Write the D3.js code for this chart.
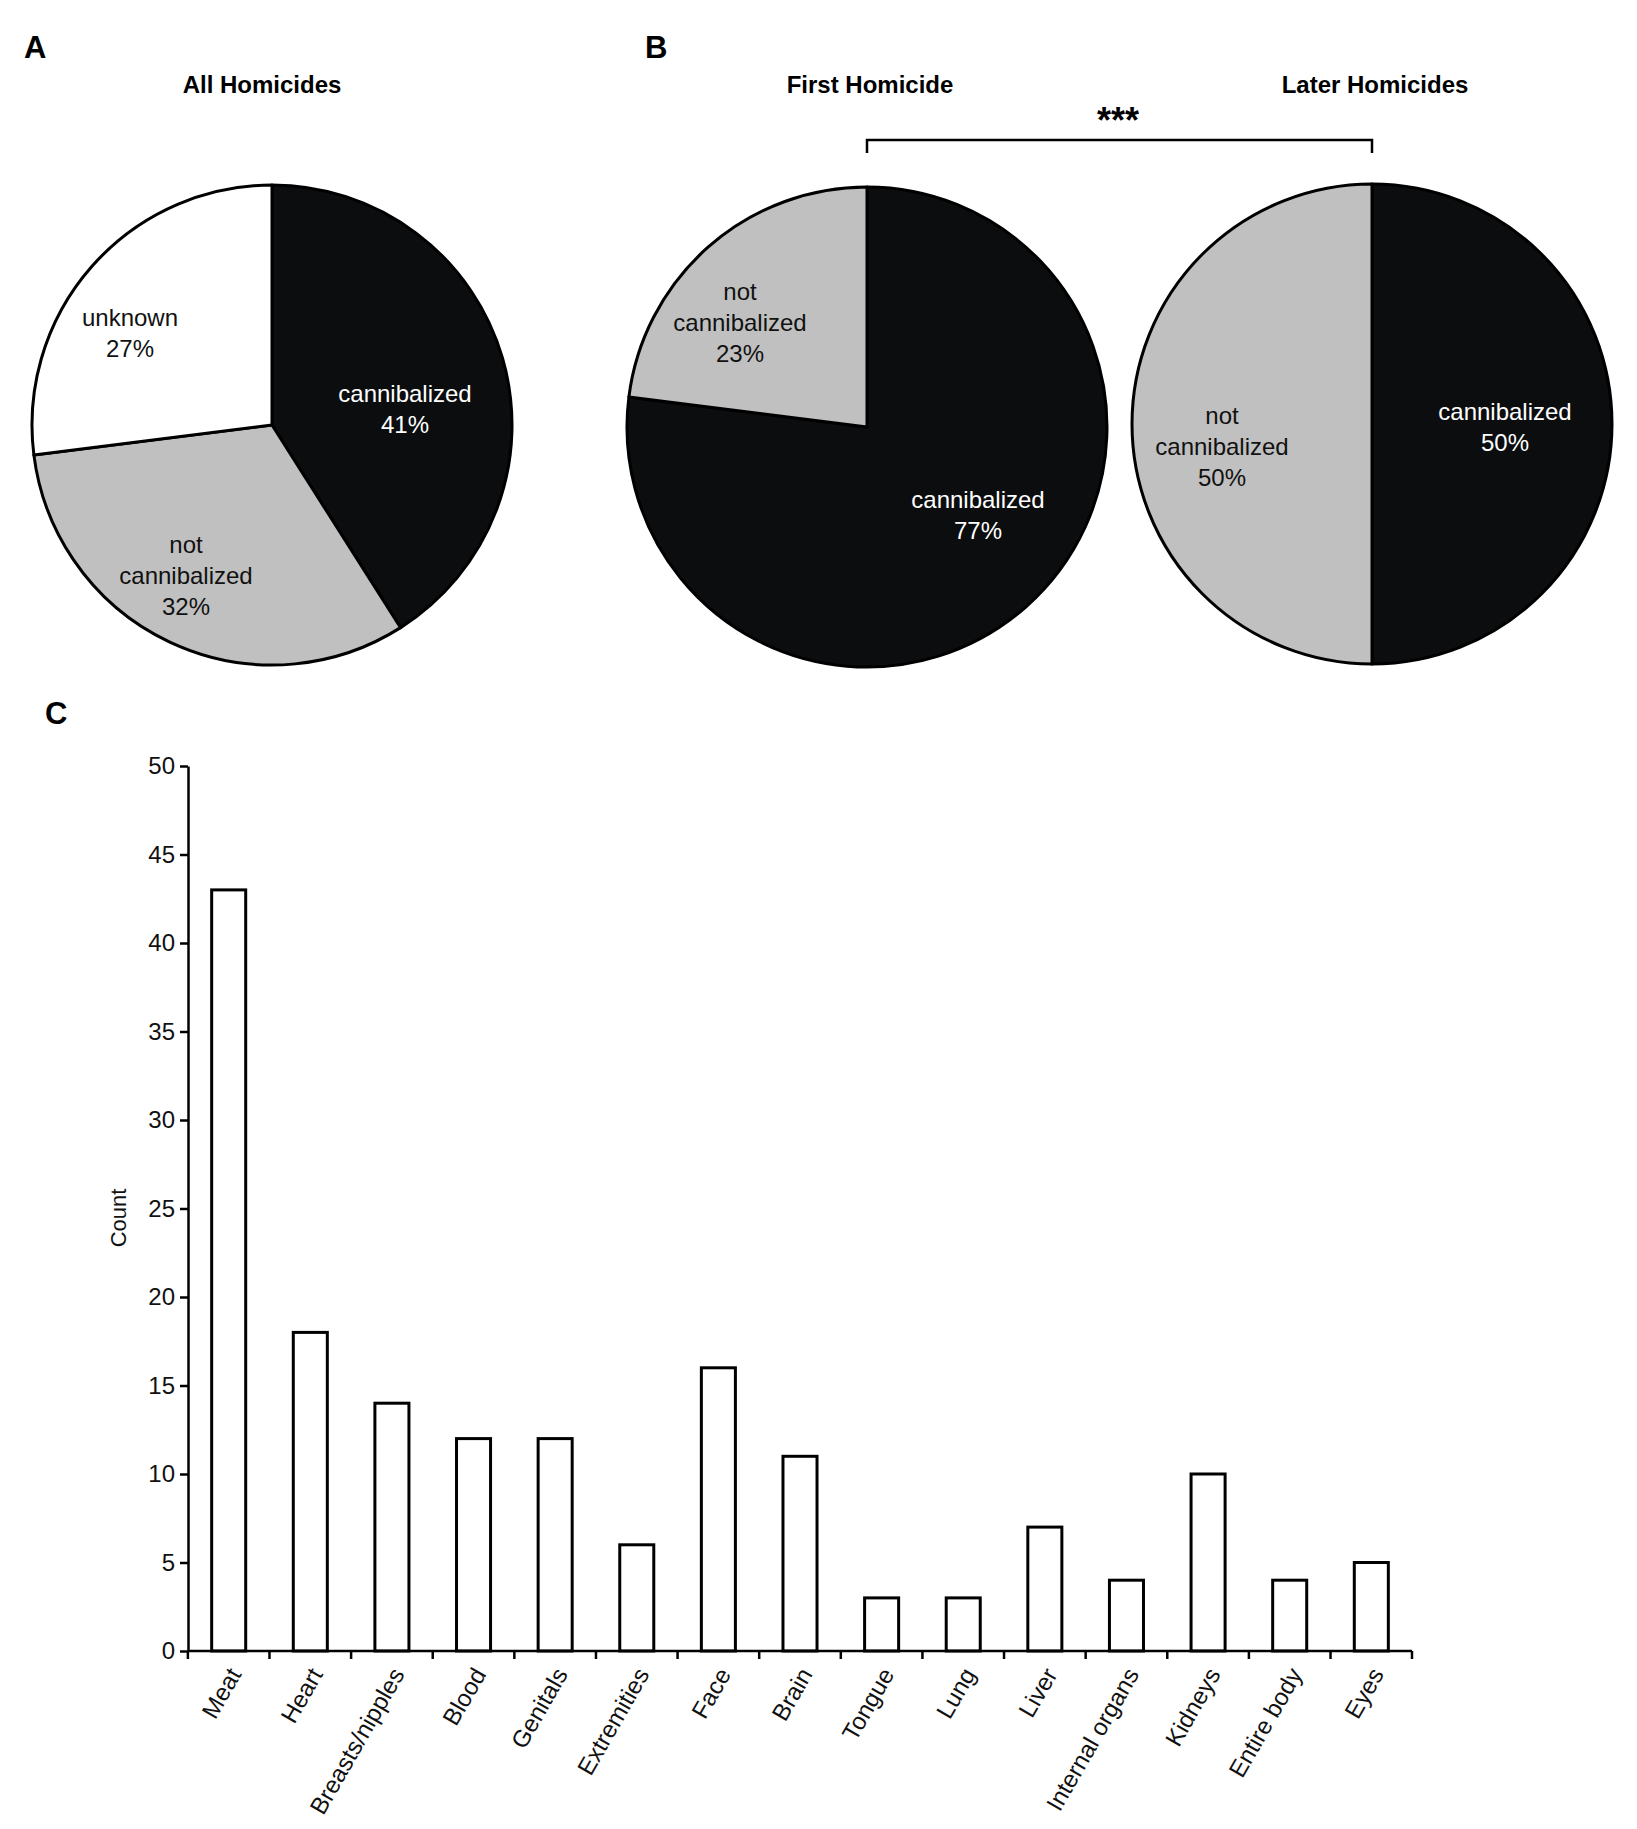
<!DOCTYPE html>
<html>
<head>
<meta charset="utf-8">
<script src="https://cdn.jsdelivr.net/npm/d3@7"></script>
<style>
  body { margin: 0; background: #fff; }
  text { font-family: "Liberation Sans", Arial, sans-serif; }
</style>
</head>
<body>
<svg width="1637" height="1829"></svg>
<script>
// pie data
let sliceNames = ['cannibalized', 'not cannibalized', 'unknown']
let allHomicides = [41, 32, 27]
let firstHomicide = [77, 23]
let laterHomicides = [50, 50]

// bar data
let bodyParts = ['Meat', 'Heart', 'Breasts/nipples', 'Blood', 'Genitals', 'Extremities', 'Face', 'Brain',
  'Tongue', 'Lung', 'Liver', 'Internal organs', 'Kidneys', 'Entire body', 'Eyes']
let counts = [43, 18, 14, 12, 12, 6, 16, 11, 3, 3, 7, 4, 10, 4, 5]
let yTicks = [0, 5, 10, 15, 20, 25, 30, 35, 40, 45, 50]

let black = '#0b0d0e'
let grey = '#c0c0c0'
let fills = [black, grey, '#ffffff']
let textFill = ['#ffffff', '#111', '#111']

let svg = d3.select('svg')

let radius = 240
let arc = d3.arc().innerRadius(0).outerRadius(radius)
let pie = d3.pie().sort(null).value(d => d)

// where the slice labels sit, relative to the pie centre
let drawPie = (values, cx, cy, labelPos) => {
  let g = svg.append('g').attr('transform', `translate(${cx},${cy})`)
  let arcs = pie(values)
  g.selectAll('path')
    .data(arcs)
    .enter()
    .append('path')
    .attr('d', arc)
    .attr('fill', (d, i) => fills[i])
    .attr('stroke', '#000')
    .attr('stroke-width', 3)
    .attr('stroke-linejoin', 'round')

  arcs.forEach((d, i) => {
    let name = sliceNames[i]
    let lines = name === 'not cannibalized' ? ['not', 'cannibalized'] : [name]
    lines = lines.concat(values[i] + '%')
    let t = g.append('text')
      .attr('text-anchor', 'middle')
      .attr('font-size', 24)
      .attr('fill', textFill[i])
    let lh = 31
    lines.forEach((l, k) => {
      t.append('tspan')
        .attr('x', labelPos[i][0])
        .attr('y', labelPos[i][1] + (k - (lines.length - 1) / 2) * lh)
        .attr('dy', '0.35em')
        .text(l)
    })
  })
}

drawPie(allHomicides, 272, 425, [[133, -16], [-86, 151], [-142, -92]])
drawPie(firstHomicide, 867, 427, [[111, 88], [-127, -104]])
drawPie(laterHomicides, 1372, 424, [[133, 3], [-150, 23]])

// panel letters + titles
let letter = (s, x, y) => svg.append('text').attr('x', x).attr('y', y)
  .attr('font-size', 31).attr('font-weight', 'bold').text(s)
letter('A', 24, 58)
letter('B', 645, 58)
letter('C', 45, 724)

let title = (s, x) => svg.append('text').attr('x', x).attr('y', 93)
  .attr('text-anchor', 'middle').attr('font-size', 24).attr('font-weight', 'bold').text(s)
title('All Homicides', 262)
title('First Homicide', 870)
title('Later Homicides', 1375)

// significance bracket between pie B centres
svg.append('path')
  .attr('d', 'M867,153 V140 H1372 V153')
  .attr('fill', 'none')
  .attr('stroke', '#000')
  .attr('stroke-width', 2.5)
svg.append('text')
  .attr('x', 1118).attr('y', 133)
  .attr('text-anchor', 'middle')
  .attr('font-size', 36)
  .attr('font-weight', 'bold')
  .text('***')

// bar chart
let x = d3.scaleBand().domain(bodyParts).range([188, 1412]).paddingInner(0.583).paddingOuter(0.29)
let y = d3.scaleLinear().domain([0, 50]).range([1651, 766])

svg.selectAll('rect.bar')
  .data(counts)
  .enter()
  .append('rect')
  .attr('class', 'bar')
  .attr('x', (d, i) => x(bodyParts[i]))
  .attr('y', d => y(d))
  .attr('width', x.bandwidth())
  .attr('height', d => y(0) - y(d))
  .attr('fill', '#fff')
  .attr('stroke', '#000')
  .attr('stroke-width', 3)

let yAxis = svg.append('g')
  .attr('transform', 'translate(188,0)')
  .call(d3.axisLeft(y).tickValues(yTicks).tickSize(8).tickPadding(5).tickSizeOuter(0))
yAxis.selectAll('text').attr('font-size', 24).attr('fill', '#111')
  .style('font-family', '"Liberation Sans", Arial, sans-serif')
yAxis.selectAll('line, path').attr('stroke', '#000').attr('stroke-width', 2.5)

// x axis: ticks on band boundaries, labels rotated
let gap = (x.step() - x.bandwidth()) / 2
let bounds = bodyParts.map(d => x(d) - gap).concat(x.range()[1])
let xAxis = svg.append('g')
xAxis.append('line')
  .attr('x1', x.range()[0]).attr('x2', x.range()[1])
  .attr('y1', y(0)).attr('y2', y(0))
  .attr('stroke', '#000').attr('stroke-width', 2.5)
xAxis.selectAll('line.tick')
  .data(bounds)
  .enter()
  .append('line')
  .attr('class', 'tick')
  .attr('x1', d => d).attr('x2', d => d)
  .attr('y1', y(0)).attr('y2', y(0) + 8)
  .attr('stroke', '#000').attr('stroke-width', 2.5)
xAxis.selectAll('text')
  .data(bodyParts)
  .enter()
  .append('text')
  .attr('transform', d => `translate(${x(d) + x.bandwidth() / 2 + 6},${y(0) + 19}) rotate(-60)`)
  .attr('text-anchor', 'end')
  .attr('dy', '0.35em')
  .attr('font-size', 24)
  .attr('fill', '#111')
  .text(d => d)

svg.append('text')
  .attr('transform', 'translate(118,1218) rotate(-90)')
  .attr('text-anchor', 'middle')
  .attr('dy', '0.35em')
  .attr('font-size', 22)
  .attr('fill', '#111')
  .text('Count')
</script>
</body>
</html>
